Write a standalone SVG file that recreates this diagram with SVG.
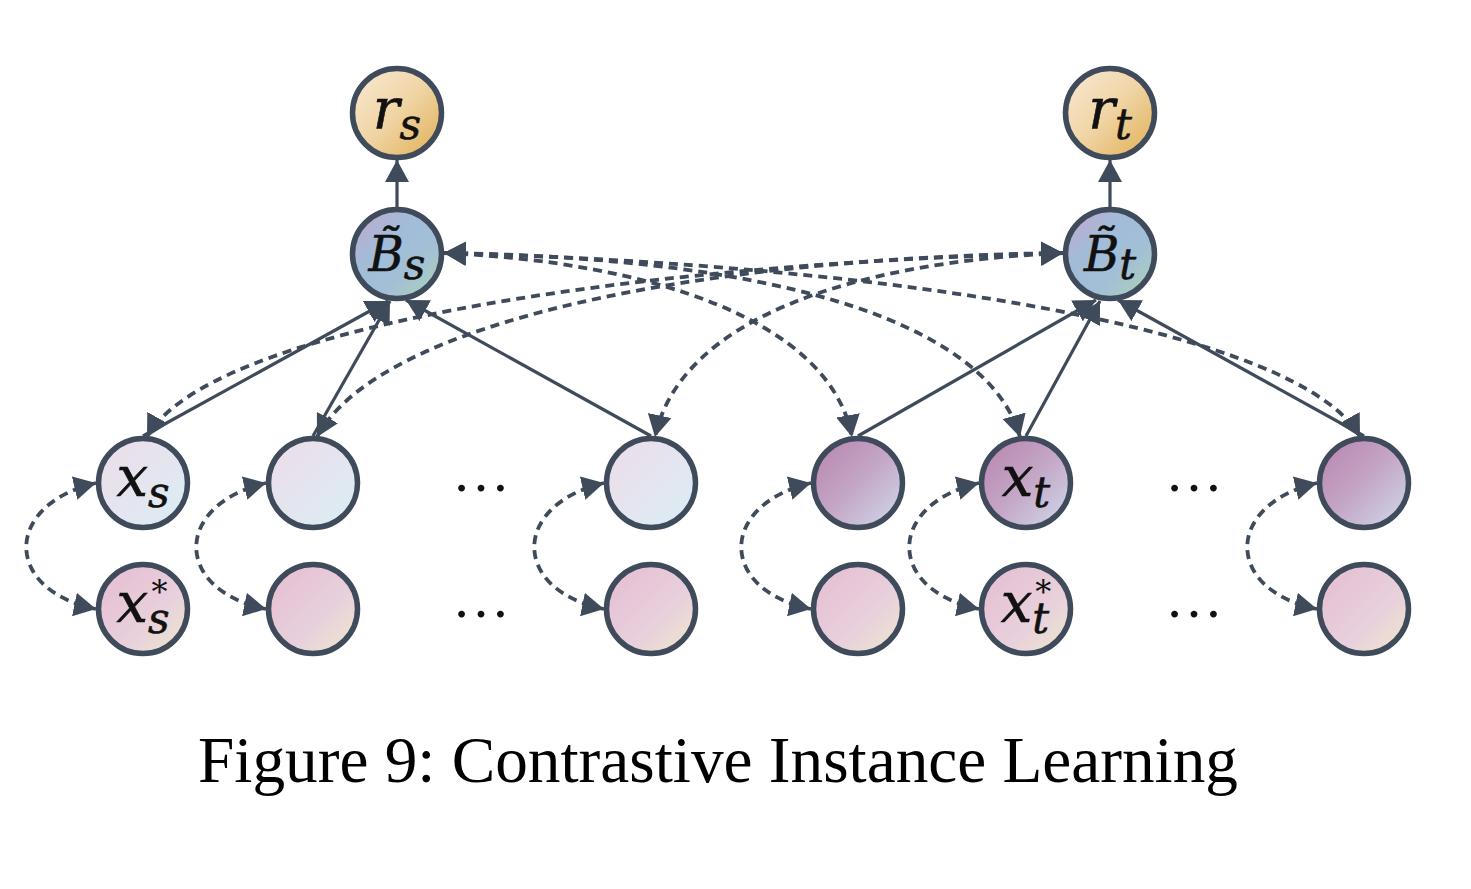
<svg xmlns="http://www.w3.org/2000/svg" width="1471" height="889" viewBox="0 0 1471 889">
<style>
.node{stroke:#3f4b5b;stroke-width:5.5}
.solid{fill:none;stroke:#3f4b5b;stroke-width:3.2}
.dash{fill:none;stroke:#3f4b5b;stroke-width:3.8;stroke-dasharray:9 6}
.math{font-family:"DejaVu Serif","Liberation Serif",serif;font-style:italic;fill:#111;stroke:#111;stroke-width:0.6}
.star{font-family:"DejaVu Serif","Liberation Serif",serif;font-size:32px;fill:#111}
.dots{font-family:"Liberation Serif",serif;font-size:58px;fill:#111}
.cap{font-family:"Liberation Serif","Times New Roman",serif;font-size:65px;fill:#000}
</style>
<defs>
<linearGradient id="gR" x1="0" y1="0" x2="1" y2="1"><stop offset="0" stop-color="#f8ead6"/><stop offset="0.5" stop-color="#f0d4a4"/><stop offset="1" stop-color="#dfae52"/></linearGradient>
<linearGradient id="gB" x1="0" y1="0" x2="1" y2="1"><stop offset="0" stop-color="#c9a4cc"/><stop offset="0.35" stop-color="#a2bcd8"/><stop offset="0.65" stop-color="#a3bfd6"/><stop offset="1" stop-color="#acd6b2"/></linearGradient>
<linearGradient id="gS" x1="0" y1="0" x2="1" y2="1"><stop offset="0" stop-color="#eedce8"/><stop offset="1" stop-color="#daeef6"/></linearGradient>
<linearGradient id="gT" x1="0" y1="0" x2="1" y2="1"><stop offset="0" stop-color="#b882ae"/><stop offset="0.5" stop-color="#c4a6c6"/><stop offset="1" stop-color="#d0dcec"/></linearGradient>
<linearGradient id="gA" x1="0" y1="0" x2="1" y2="1"><stop offset="0" stop-color="#e4bcd2"/><stop offset="0.6" stop-color="#e8d0dc"/><stop offset="1" stop-color="#eee8cc"/></linearGradient>
<marker id="ah" viewBox="0 0 10 10" refX="10" refY="5" markerUnits="userSpaceOnUse" markerWidth="22" markerHeight="24" preserveAspectRatio="none" orient="auto-start-reverse"><path d="M0,0 L10,5 L0,10 z" fill="#3f4b5b"/></marker>
</defs>

<g id="connectors">
<path class="solid" marker-end="url(#ah)" d="M397,207 L397,160"/>
<path class="solid" marker-end="url(#ah)" d="M1110,207 L1110,160"/>
<path class="solid" marker-end="url(#ah)" d="M143,436 L388,301"/>
<path class="solid" marker-end="url(#ah)" d="M313,436 L390,301"/>
<path class="solid" marker-end="url(#ah)" d="M651,436 L406,300"/>
<path class="solid" marker-end="url(#ah)" d="M858,436 L1096,300"/>
<path class="solid" marker-end="url(#ah)" d="M1026,436 L1100,301"/>
<path class="solid" marker-end="url(#ah)" d="M1364,436 L1118,300"/>
<path class="dash" marker-start="url(#ah)" marker-end="url(#ah)" d="M444,253 C650,262 830,320 852,437"/>
<path class="dash" marker-start="url(#ah)" marker-end="url(#ah)" d="M444,253 C800,258 990,330 1020,437"/>
<path class="dash" marker-start="url(#ah)" marker-end="url(#ah)" d="M444,253 C900,265 1300,330 1360,437"/>
<path class="dash" marker-start="url(#ah)" marker-end="url(#ah)" d="M1063,253 C607,265 207,330 147,437"/>
<path class="dash" marker-start="url(#ah)" marker-end="url(#ah)" d="M1063,253 C700,258 380,320 317,437"/>
<path class="dash" marker-start="url(#ah)" marker-end="url(#ah)" d="M1063,253 C850,262 680,320 655,437"/>
<path class="dash" marker-start="url(#ah)" marker-end="url(#ah)" d="M96,483 C3,505 3,590 96,609"/>
<path class="dash" marker-start="url(#ah)" marker-end="url(#ah)" d="M266,483 C173,505 173,590 266,609"/>
<path class="dash" marker-start="url(#ah)" marker-end="url(#ah)" d="M604,483 C511,505 511,590 604,609"/>
<path class="dash" marker-start="url(#ah)" marker-end="url(#ah)" d="M811,483 C718,505 718,590 811,609"/>
<path class="dash" marker-start="url(#ah)" marker-end="url(#ah)" d="M979,483 C886,505 886,590 979,609"/>
<path class="dash" marker-start="url(#ah)" marker-end="url(#ah)" d="M1317,483 C1224,505 1224,590 1317,609"/>
</g>

<g id="r_s"><circle class="node" cx="397" cy="113" r="44.5" fill="url(#gR)"/><text class="math" x="397" y="128" text-anchor="middle" font-size="56">r<tspan font-size="42" dy="11">s</tspan></text></g>
<g id="r_t"><circle class="node" cx="1110" cy="113" r="44.5" fill="url(#gR)"/><text class="math" x="1110" y="128" text-anchor="middle" font-size="56">r<tspan font-size="42" dy="11">t</tspan></text></g>
<g id="B_s"><circle class="node" cx="397" cy="254" r="44.5" fill="url(#gB)"/><text class="math" x="397" y="271" text-anchor="middle" font-size="48">B̃<tspan font-size="42" dy="8">s</tspan></text></g>
<g id="B_t"><circle class="node" cx="1110" cy="254" r="44.5" fill="url(#gB)"/><text class="math" x="1110" y="271" text-anchor="middle" font-size="48">B̃<tspan font-size="42" dy="8">t</tspan></text></g>

<g id="x_s"><circle class="node" cx="143" cy="483" r="44.5" fill="url(#gS)"/><text class="math" x="143" y="496" text-anchor="middle" font-size="56">x<tspan font-size="42" dy="11">s</tspan></text></g>
<g id="src2"><circle class="node" cx="313" cy="483" r="44.5" fill="url(#gS)"/></g>
<g id="src3"><circle class="node" cx="651" cy="483" r="44.5" fill="url(#gS)"/></g>
<g id="tgt1"><circle class="node" cx="858" cy="483" r="44.5" fill="url(#gT)"/></g>
<g id="x_t"><circle class="node" cx="1026" cy="483" r="44.5" fill="url(#gT)"/><text class="math" x="1026" y="496" text-anchor="middle" font-size="56">x<tspan font-size="42" dy="11">t</tspan></text></g>
<g id="tgt3"><circle class="node" cx="1364" cy="483" r="44.5" fill="url(#gT)"/></g>

<g id="x_s_star"><circle class="node" cx="143" cy="609" r="44.5" fill="url(#gA)"/><text class="math" x="143" y="622" text-anchor="middle" font-size="56">x<tspan font-size="42" dy="11">s</tspan><tspan class="star" stroke="none" font-style="normal" dx="-18" dy="-30">*</tspan></text></g>
<g id="aug2"><circle class="node" cx="313" cy="609" r="44.5" fill="url(#gA)"/></g>
<g id="aug3"><circle class="node" cx="651" cy="609" r="44.5" fill="url(#gA)"/></g>
<g id="aug4"><circle class="node" cx="858" cy="609" r="44.5" fill="url(#gA)"/></g>
<g id="x_t_star"><circle class="node" cx="1026" cy="609" r="44.5" fill="url(#gA)"/><text class="math" x="1026" y="622" text-anchor="middle" font-size="56">x<tspan font-size="42" dy="11">t</tspan><tspan class="star" stroke="none" font-style="normal" dx="-14" dy="-30">*</tspan></text></g>
<g id="aug6"><circle class="node" cx="1364" cy="609" r="44.5" fill="url(#gA)"/></g>

<g id="ellipses">
<text class="dots" x="481" y="491" text-anchor="middle">…</text>
<text class="dots" x="1194" y="491" text-anchor="middle">…</text>
<text class="dots" x="481" y="617" text-anchor="middle">…</text>
<text class="dots" x="1194" y="617" text-anchor="middle">…</text>
</g>

<text class="cap" x="198" y="782" textLength="1040" lengthAdjust="spacingAndGlyphs">Figure 9: Contrastive Instance Learning</text>
</svg>
